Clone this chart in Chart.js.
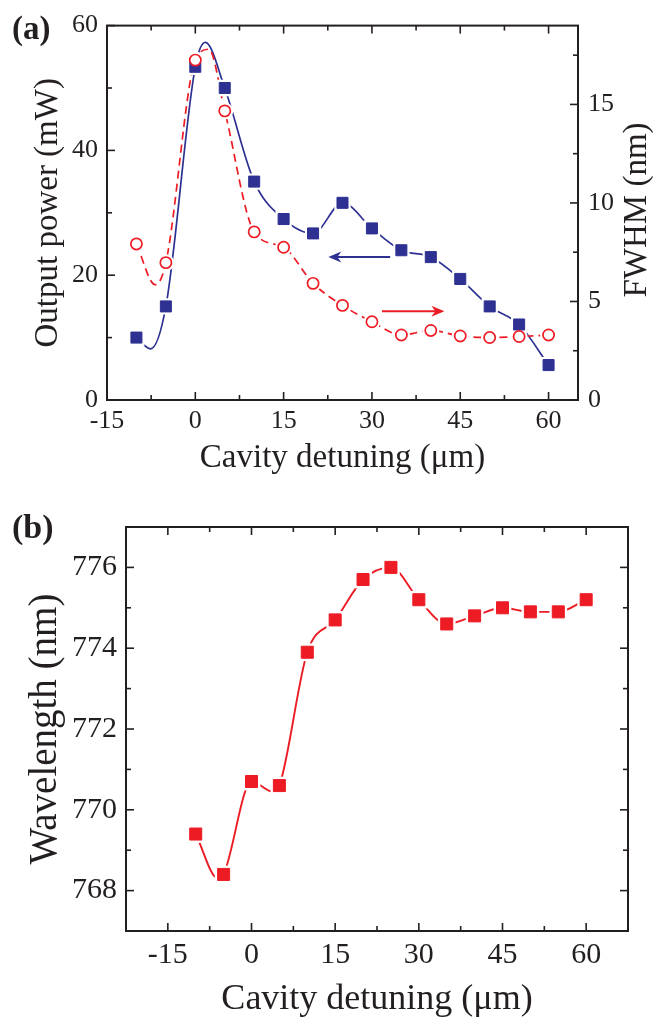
<!DOCTYPE html>
<html>
<head>
<meta charset="utf-8">
<script src="https://cdn.jsdelivr.net/npm/chart.js@4.4.1/dist/chart.umd.min.js"></script>
<style>
    body { margin: 0; background: #fff; }
    canvas { position: absolute; left: 0; }
    #chartA { top: 0; }
    #chartB { top: 490px; }
</style>
</head>
<body>
<canvas id="chartA" width="667" height="490"></canvas>
<canvas id="chartB" width="667" height="533"></canvas>
<script>
const detuning = [-10, -5, 0, 5, 10, 15, 20, 25, 30, 35, 40, 45, 50, 55, 60];
const outputPower = [10, 15, 53.4, 50, 35, 29, 26.7, 31.6, 27.5, 24, 22.9, 19.4, 15, 12.1, 5.6];
const fwhm = [7.92, 6.97, 17.25, 14.67, 8.53, 7.75, 5.92, 4.8, 3.97, 3.3, 3.53, 3.25, 3.17, 3.22, 3.3];
const wavelength = [769.4, 768.4, 770.7, 770.6, 773.9, 774.7, 775.7, 776.0, 775.2, 774.6, 774.8, 775.0, 774.9, 774.9, 775.2];

// guide curves (markers plus the curve's own dips/peaks)
const powerCurveX = [-10, -7.6, -5, 0, 1.7, 5, 10, 15, 20, 25, 30, 35, 40, 45, 50, 55, 60];
const powerCurveY = [10, 8.2, 15, 53.4, 57.3, 50, 35, 29, 26.7, 31.6, 27.5, 24, 22.9, 19.4, 15, 12.1, 5.6];
const fwhmCurveX = [-10, -6.8, -5, 0, 2.3, 5, 10, 15, 20, 25, 30, 35, 40, 45, 50, 55, 60];
const fwhmCurveY = [7.92, 5.85, 6.97, 17.25, 17.8, 14.67, 8.53, 7.75, 5.92, 4.8, 3.97, 3.3, 3.53, 3.25, 3.17, 3.22, 3.3];
const waveCurveX = [-10, -6, -5, 0, 3.8, 5, 10, 15, 20, 25, 30, 35, 40, 45, 50, 55, 60];
const waveCurveY = [769.4, 768.3, 768.4, 770.7, 770.45, 770.6, 773.9, 774.7, 775.7, 776.0, 775.2, 774.6, 774.8, 775.0, 774.9, 774.9, 775.2];

const xTickLabels = [-15, 0, 15, 30, 45, 60];
const powerTickLabels = [0, 20, 40, 60];
const fwhmTickLabels = [0, 5, 10, 15];
const wavelengthTickLabels = [768, 770, 772, 774, 776];

const SERIF = "'Liberation Serif', 'Times New Roman', serif";
const INK = "#231f20";
const BLUE = "#2e3192";
const RED = "#ed1c24";

function pts(xs, ys) {
    return xs.map((x, i) => ({ x: x, y: ys[i] }));
}

function labelFrom(list) {
    return function (v) {
        return list.includes(v) ? String(v) : "";
    };
}

// frame, inward ticks, arrows and extra texts
const decorPlugin = {
    id: "decor",
    afterDraw(chart, args, opts) {
        const ctx = chart.ctx;
        const a = chart.chartArea;
        ctx.save();
        ctx.strokeStyle = INK;
        ctx.lineWidth = 2;
        ctx.strokeRect(a.left, a.top, a.right - a.left, a.bottom - a.top);

        ctx.lineWidth = 1.6;
        (opts.sides || []).forEach((side) => {
            const scale = chart.scales[side.id];
            scale.ticks.forEach((t) => {
                const p = scale.getPixelForValue(t.value);
                const len = t.label !== "" ? 8 : 5;
                ctx.beginPath();
                if (side.edge === "bottom") {
                    ctx.moveTo(p, a.bottom); ctx.lineTo(p, a.bottom - len);
                } else if (side.edge === "top") {
                    ctx.moveTo(p, a.top); ctx.lineTo(p, a.top + len);
                } else if (side.edge === "left") {
                    ctx.moveTo(a.left, p); ctx.lineTo(a.left + len, p);
                } else {
                    ctx.moveTo(a.right, p); ctx.lineTo(a.right - len, p);
                }
                ctx.stroke();
            });
        });

        (opts.arrows || []).forEach((ar) => {
            const xs = chart.scales.x;
            const ys = chart.scales[ar.axis];
            const x0 = xs.getPixelForValue(ar.from[0]);
            const y0 = ys.getPixelForValue(ar.from[1]);
            const x1 = xs.getPixelForValue(ar.to[0]);
            const y1 = ys.getPixelForValue(ar.to[1]);
            const dir = Math.sign(x1 - x0);
            ctx.strokeStyle = ar.color;
            ctx.fillStyle = ar.color;
            ctx.lineWidth = 2;
            ctx.beginPath();
            ctx.moveTo(x0, y0);
            ctx.lineTo(x1 - dir * 8, y1);
            ctx.stroke();
            ctx.beginPath();
            ctx.moveTo(x1, y1);
            ctx.lineTo(x1 - dir * 13, y1 - 5.5);
            ctx.lineTo(x1 - dir * 9, y1);
            ctx.lineTo(x1 - dir * 13, y1 + 5.5);
            ctx.closePath();
            ctx.fill();
        });

        (opts.texts || []).forEach((tx) => {
            ctx.save();
            ctx.fillStyle = INK;
            ctx.font = tx.font;
            ctx.textAlign = tx.align || "left";
            ctx.textBaseline = tx.baseline || "alphabetic";
            ctx.translate(tx.x, tx.y);
            if (tx.rotate) ctx.rotate(tx.rotate);
            ctx.fillText(tx.text, 0, 0);
            ctx.restore();
        });
        ctx.restore();
    },
};

function axisBase(size) {
    return {
        type: "linear",
        grid: { display: false, drawTicks: false },
        border: { display: false },
        ticks: {
            autoSkip: false,
            maxRotation: 0,
            includeBounds: false,
            color: INK,
            font: { family: SERIF, size: size },
        },
    };
}

function merge(base, extra) {
    const out = Object.assign({}, base, extra);
    out.ticks = Object.assign({}, base.ticks, extra.ticks || {});
    return out;
}

function markerSet(ys, axis, style) {
    return Object.assign({
        data: pts(detuning, ys),
        yAxisID: axis,
        showLine: false,
    }, style);
}

function curveSet(xs, ys, axis, style) {
    return Object.assign({
        data: pts(xs, ys),
        yAxisID: axis,
        showLine: true,
        pointRadius: 0,
        cubicInterpolationMode: "monotone",
    }, style);
}

// ---- (a) ----
const xA = merge(axisBase(26), {
    min: -15, max: 65,
    afterFit: (s) => { s.height = 90; },
    ticks: { stepSize: 7.5, padding: 6, callback: labelFrom(xTickLabels) },
    title: {
        display: true, text: "Cavity detuning (\u03bcm)", color: INK,
        font: { family: SERIF, size: 33 }, padding: { top: 0, bottom: 12 },
    },
});
const yPower = merge(axisBase(26), {
    position: "left", min: 0, max: 60,
    afterFit: (s) => { s.width = 107; },
    ticks: { stepSize: 10, padding: 9, callback: labelFrom(powerTickLabels) },
    title: {
        display: true, text: "Output power (mW)", color: INK,
        font: { family: SERIF, size: 33 }, padding: { top: 29, bottom: 0 },
    },
});
const yFwhm = merge(axisBase(26), {
    position: "right", min: 0, max: 19,
    afterFit: (s) => { s.width = 89; },
    ticks: { stepSize: 2.5, padding: 10, callback: labelFrom(fwhmTickLabels) },
});

new Chart(document.getElementById("chartA"), {
    type: "scatter",
    data: {
        datasets: [
            markerSet(fwhm, "y1", {
                pointStyle: "circle", pointRadius: 5.6, pointBorderWidth: 1.7,
                pointBorderColor: RED, pointBackgroundColor: "#fff", order: 0,
            }),
            markerSet(outputPower, "y", {
                pointStyle: "rect", pointRadius: 7.8, pointBorderWidth: 1,
                pointBorderColor: BLUE, pointBackgroundColor: BLUE, order: 1,
            }),
            markerSet(fwhm, "y1", {
                pointStyle: "circle", pointRadius: 8.5, pointBorderWidth: 0,
                pointBackgroundColor: "#fff", order: 2,
            }),
            markerSet(outputPower, "y", {
                pointStyle: "rect", pointRadius: 11.5, pointBorderWidth: 0,
                pointBackgroundColor: "#fff", order: 3,
            }),
            curveSet(fwhmCurveX, fwhmCurveY, "y1", {
                borderColor: RED, borderWidth: 1.7, borderDash: [8, 5], order: 4,
            }),
            curveSet(powerCurveX, powerCurveY, "y", {
                borderColor: BLUE, borderWidth: 1.7, order: 5,
            }),
        ],
    },
    options: {
        responsive: false,
        animation: false,
        events: [],
        layout: { padding: { top: 20, left: 0, right: 0, bottom: 0 } },
        scales: { x: xA, y: yPower, y1: yFwhm },
        plugins: {
            legend: { display: false },
            tooltip: { enabled: false },
            decor: {
                sides: [
                    { id: "x", edge: "bottom" }, { id: "x", edge: "top" },
                    { id: "y", edge: "left" }, { id: "y1", edge: "right" },
                ],
                arrows: [
                    { from: [33.1, 22.9], to: [22.6, 22.9], axis: "y", color: BLUE },
                    { from: [31.7, 4.5], to: [42.3, 4.5], axis: "y1", color: RED },
                ],
                texts: [
                    { text: "(a)", x: 12, y: 39, font: "bold 33px " + SERIF },
                    {
                        text: "FWHM (nm)", x: 637, y: 210, rotate: -Math.PI / 2,
                        align: "center", baseline: "middle", font: "33px " + SERIF,
                    },
                ],
            },
        },
    },
    plugins: [decorPlugin],
});

// ---- (b) ----
const xB = merge(axisBase(30), {
    min: -22.5, max: 67.5,
    afterFit: (s) => { s.height = 92; },
    ticks: { stepSize: 7.5, padding: 6, callback: labelFrom(xTickLabels) },
    title: {
        display: true, text: "Cavity detuning (\u03bcm)", color: INK,
        font: { family: SERIF, size: 36 }, padding: { top: 0, bottom: 2 },
    },
});
const yWave = merge(axisBase(30), {
    position: "left", min: 767, max: 777,
    afterFit: (s) => { s.width = 126; },
    ticks: { stepSize: 1, padding: 9, callback: labelFrom(wavelengthTickLabels) },
    title: {
        display: true, text: "Wavelength (nm)", color: INK,
        font: { family: SERIF, size: 39 }, padding: { top: 22, bottom: 0 },
    },
});

new Chart(document.getElementById("chartB"), {
    type: "scatter",
    data: {
        datasets: [
            markerSet(wavelength, "y", {
                pointStyle: "rect", pointRadius: 8.5, pointBorderWidth: 1,
                pointBorderColor: RED, pointBackgroundColor: RED, order: 0,
            }),
            markerSet(wavelength, "y", {
                pointStyle: "rect", pointRadius: 12.5, pointBorderWidth: 0,
                pointBackgroundColor: "#fff", order: 1,
            }),
            curveSet(waveCurveX, waveCurveY, "y", {
                borderColor: RED, borderWidth: 1.9, order: 2,
            }),
        ],
    },
    options: {
        responsive: false,
        animation: false,
        events: [],
        layout: { padding: { top: 37, left: 0, right: 39, bottom: 0 } },
        scales: { x: xB, y: yWave },
        plugins: {
            legend: { display: false },
            tooltip: { enabled: false },
            decor: {
                sides: [
                    { id: "x", edge: "bottom" }, { id: "x", edge: "top" },
                    { id: "y", edge: "left" }, { id: "y", edge: "right" },
                ],
                texts: [
                    { text: "(b)", x: 12, y: 48, font: "bold 34px " + SERIF },
                ],
            },
        },
    },
    plugins: [decorPlugin],
});
</script>
</body>
</html>
